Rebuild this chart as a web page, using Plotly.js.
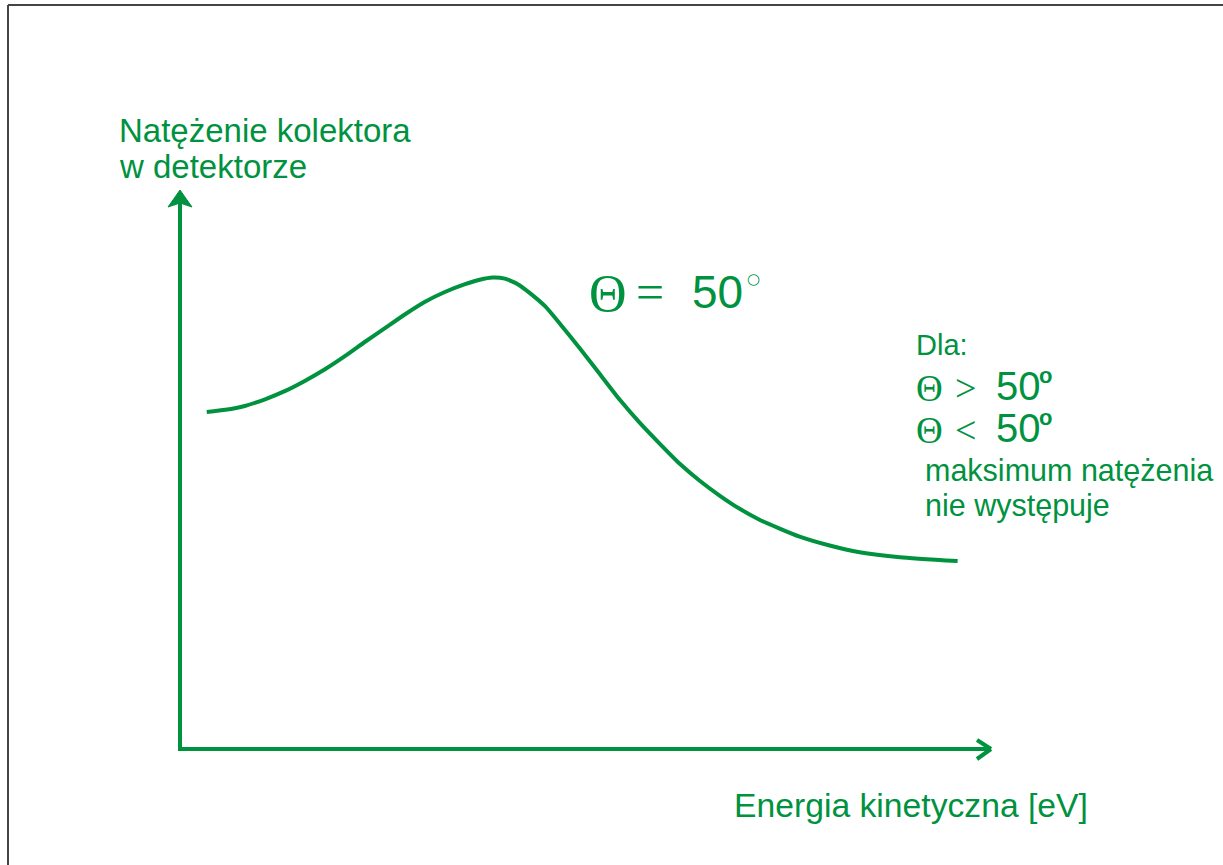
<!DOCTYPE html>
<html>
<head>
<meta charset="utf-8">
<script src="https://cdn.plot.ly/plotly-3.0.1.min.js"></script>
<style>html,body{margin:0;padding:0;background:#fff;}#chart{width:1223px;height:865px;}</style>
</head>
<body>
<div id="chart"></div>
<script>
// Data (arbitrary units, axis origin = 0)
const energy = [3.3, 5.6, 8.0, 10.5, 13.0, 15.4, 17.9, 20.4, 22.8, 25.3, 27.8, 30.2, 32.7, 35.2, 37.0, 38.6, 40.1, 41.7, 43.2, 45.1, 46.9, 49.4, 51.9, 54.3, 56.8, 59.3, 61.7, 64.2, 66.7, 69.1, 71.6, 74.1, 76.5, 80.2, 83.9, 88.9, 96.0];
const intensity = [60.6, 61.0, 61.7, 62.9, 64.4, 66.2, 68.3, 70.7, 73.2, 75.7, 78.2, 80.4, 82.2, 83.6, 84.4, 84.8, 84.6, 83.6, 82.0, 79.6, 76.5, 72.0, 67.3, 62.8, 58.6, 54.8, 51.3, 48.2, 45.5, 43.2, 41.2, 39.6, 38.2, 36.6, 35.4, 34.5, 33.8];
const yLabelLines = ["Natężenie kolektora", "w detektorze"];
const xLabel = "Energia kinetyczna [eV]";
const note = ["Dla:", "maksimum natężenia", "nie występuje"];

const GREEN = "#00923f";
const FIG_W = 1223, FIG_H = 865;
const L = 180, R = 990, T = 193, B = 749;
const W = R - L, H = B - T;
const PX = x => (x - L) / W;
const PY = y => (B - y) / H;
const SANS = "Liberation Sans, Arial, sans-serif";
const SERIF = "Liberation Serif, Times New Roman, serif";

function txt(text, x, y, size, family, extra) {
  return Object.assign({
    text: text, xref: "paper", yref: "paper", x: PX(x), y: PY(y),
    xanchor: "left", yanchor: "middle", showarrow: false,
    font: {family: family || SANS, size: size, color: GREEN}
  }, extra || {});
}

const annotations = [
  txt(yLabelLines[0], 117, 130, 33),
  txt(yLabelLines[1], 117, 166, 33),
  txt(xLabel, 732, 805, 33.7),
  txt("Θ", 587, 293, 52, SERIF),
  txt("=", 634, 292, 50, SERIF),
  txt("50", 690, 292, 46),
  txt("○", 745, 279, 15, "DejaVu Sans"),
  txt(note[0], 914, 345, 29),
  txt("Θ", 914, 388, 37, SERIF),
  txt(">", 953, 388, 38, SERIF),
  txt("50", 994, 386, 40),
  txt("<b>o</b>", 1037, 375, 22, SANS),
  txt("Θ", 914, 430, 37, SERIF),
  txt("<", 953, 430, 38, SERIF),
  txt("50", 994, 428, 40),
  txt("<b>o</b>", 1037, 417, 22, SANS),
  txt(note[1], 923, 470, 30.5),
  txt(note[2], 923, 505, 30.5)
];

function seg(x0, y0, x1, y1, color, width) {
  return {type: "line", xref: "paper", yref: "paper",
    x0: PX(x0), y0: PY(y0), x1: PX(x1), y1: PY(y1),
    line: {color: color, width: width}};
}

const shapes = [
  // frame
  seg(8, 865, 8, 5, "#444444", 2),
  seg(8, 5, 1223, 5, "#444444", 2),
  // axes
  seg(180, 751, 180, 200, GREEN, 4),
  seg(178, 749, 990, 749, GREEN, 4),
  // x arrow chevron
  seg(991, 749, 977, 740, GREEN, 4),
  seg(991, 749, 977, 759, GREEN, 4),
  // y arrow head
  {type: "path", xref: "paper", yref: "paper",
   path: `M ${PX(180)} ${PY(190)} L ${PX(168)} ${PY(207)} L ${PX(180)} ${PY(203)} L ${PX(192)} ${PY(207)} Z`,
   fillcolor: GREEN, line: {color: GREEN, width: 1}}
];

const trace = {
  x: energy, y: intensity, type: "scatter", mode: "lines",
  line: {color: GREEN, width: 4, shape: "spline", smoothing: 0.5},
  hoverinfo: "skip", cliponaxis: false
};

const layout = {
  width: FIG_W, height: FIG_H,
  margin: {l: L, r: FIG_W - R, t: T, b: FIG_H - B, pad: 0},
  paper_bgcolor: "#ffffff", plot_bgcolor: "#ffffff",
  showlegend: false,
  xaxis: {range: [0, 100], visible: false, showgrid: false, zeroline: false, fixedrange: true},
  yaxis: {range: [0, 100], visible: false, showgrid: false, zeroline: false, fixedrange: true},
  annotations: annotations,
  shapes: shapes
};

Plotly.newPlot("chart", [trace], layout, {displayModeBar: false, staticPlot: true});
</script>
</body>
</html>
